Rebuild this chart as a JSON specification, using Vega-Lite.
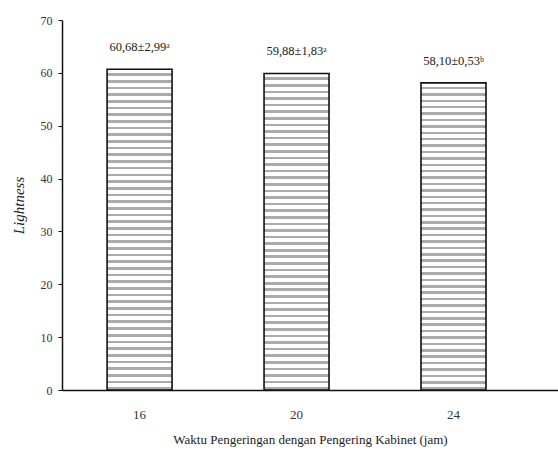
{
  "$schema": "https://vega.github.io/schema/vega-lite/v6.json",
  "width": 496,
  "height": 370,
  "autosize": {"type": "none"},
  "padding": {"left": 62, "top": 20, "right": 0, "bottom": 65},
  "background": "white",
  "config": {
    "view": {"stroke": null},
    "font": "Liberation Serif",
    "axis": {"labelFont": "Liberation Serif", "titleFont": "Liberation Serif", "labelColor": "#333", "titleColor": "#222", "titleFontWeight": "normal", "domainColor": "#111", "tickColor": "#111", "grid": false}
  },
  "data": {
    "values": [
      {"waktu": "16", "lightness": 60.68, "label": "60,68±2,99ᵃ"},
      {"waktu": "20", "lightness": 59.88, "label": "59,88±1,83ᵃ"},
      {"waktu": "24", "lightness": 58.10, "label": "58,10±0,53ᵇ"}
    ]
  },
  "encoding": {
    "x": {
      "field": "waktu",
      "type": "ordinal",
      "sort": null,
      "scale": {"paddingInner": 0.586, "paddingOuter": 0.373, "align": 0.385},
      "axis": {"title": "Waktu Pengeringan dengan Pengering Kabinet (jam)", "labelAngle": 0, "ticks": false, "labelPadding": 18, "labelFontSize": 13, "titleFontSize": 13, "titlePadding": 12, "domainWidth": 1.5}
    },
    "y": {
      "field": "lightness",
      "type": "quantitative",
      "scale": {"domain": [0, 70]},
      "axis": {"title": "Lightness", "titleFontStyle": "italic", "titleFontSize": 15, "titlePadding": 14, "values": [0, 10, 20, 30, 40, 50, 60, 70], "tickSize": 4, "labelPadding": 6, "labelFontSize": 12, "domainWidth": 1.5}
    }
  },
  "layer": [
    {
      "mark": {
        "type": "bar",
        "stroke": "#111",
        "strokeWidth": 1.6,
        "fill": {
          "gradient": "linear", "x1": 0, "y1": 0, "x2": 0, "y2": 1,
          "stops": [
            {"offset": 0, "color": "#fff"},
            {"offset": 0.0125, "color": "#fff"}, {"offset": 0.0125, "color": "#ababab"}, {"offset": 0.0208, "color": "#ababab"}, {"offset": 0.0208, "color": "#fff"},
            {"offset": 0.0333, "color": "#fff"}, {"offset": 0.0333, "color": "#ababab"}, {"offset": 0.0417, "color": "#ababab"}, {"offset": 0.0417, "color": "#fff"},
            {"offset": 0.0542, "color": "#fff"}, {"offset": 0.0542, "color": "#ababab"}, {"offset": 0.0625, "color": "#ababab"}, {"offset": 0.0625, "color": "#fff"},
            {"offset": 0.0750, "color": "#fff"}, {"offset": 0.0750, "color": "#ababab"}, {"offset": 0.0833, "color": "#ababab"}, {"offset": 0.0833, "color": "#fff"},
            {"offset": 0.0958, "color": "#fff"}, {"offset": 0.0958, "color": "#ababab"}, {"offset": 0.1042, "color": "#ababab"}, {"offset": 0.1042, "color": "#fff"},
            {"offset": 0.1167, "color": "#fff"}, {"offset": 0.1167, "color": "#ababab"}, {"offset": 0.1250, "color": "#ababab"}, {"offset": 0.1250, "color": "#fff"},
            {"offset": 0.1375, "color": "#fff"}, {"offset": 0.1375, "color": "#ababab"}, {"offset": 0.1458, "color": "#ababab"}, {"offset": 0.1458, "color": "#fff"},
            {"offset": 0.1583, "color": "#fff"}, {"offset": 0.1583, "color": "#ababab"}, {"offset": 0.1667, "color": "#ababab"}, {"offset": 0.1667, "color": "#fff"},
            {"offset": 0.1792, "color": "#fff"}, {"offset": 0.1792, "color": "#ababab"}, {"offset": 0.1875, "color": "#ababab"}, {"offset": 0.1875, "color": "#fff"},
            {"offset": 0.2000, "color": "#fff"}, {"offset": 0.2000, "color": "#ababab"}, {"offset": 0.2083, "color": "#ababab"}, {"offset": 0.2083, "color": "#fff"},
            {"offset": 0.2208, "color": "#fff"}, {"offset": 0.2208, "color": "#ababab"}, {"offset": 0.2292, "color": "#ababab"}, {"offset": 0.2292, "color": "#fff"},
            {"offset": 0.2417, "color": "#fff"}, {"offset": 0.2417, "color": "#ababab"}, {"offset": 0.2500, "color": "#ababab"}, {"offset": 0.2500, "color": "#fff"},
            {"offset": 0.2625, "color": "#fff"}, {"offset": 0.2625, "color": "#ababab"}, {"offset": 0.2708, "color": "#ababab"}, {"offset": 0.2708, "color": "#fff"},
            {"offset": 0.2833, "color": "#fff"}, {"offset": 0.2833, "color": "#ababab"}, {"offset": 0.2917, "color": "#ababab"}, {"offset": 0.2917, "color": "#fff"},
            {"offset": 0.3042, "color": "#fff"}, {"offset": 0.3042, "color": "#ababab"}, {"offset": 0.3125, "color": "#ababab"}, {"offset": 0.3125, "color": "#fff"},
            {"offset": 0.3250, "color": "#fff"}, {"offset": 0.3250, "color": "#ababab"}, {"offset": 0.3333, "color": "#ababab"}, {"offset": 0.3333, "color": "#fff"},
            {"offset": 0.3458, "color": "#fff"}, {"offset": 0.3458, "color": "#ababab"}, {"offset": 0.3542, "color": "#ababab"}, {"offset": 0.3542, "color": "#fff"},
            {"offset": 0.3667, "color": "#fff"}, {"offset": 0.3667, "color": "#ababab"}, {"offset": 0.3750, "color": "#ababab"}, {"offset": 0.3750, "color": "#fff"},
            {"offset": 0.3875, "color": "#fff"}, {"offset": 0.3875, "color": "#ababab"}, {"offset": 0.3958, "color": "#ababab"}, {"offset": 0.3958, "color": "#fff"},
            {"offset": 0.4083, "color": "#fff"}, {"offset": 0.4083, "color": "#ababab"}, {"offset": 0.4167, "color": "#ababab"}, {"offset": 0.4167, "color": "#fff"},
            {"offset": 0.4292, "color": "#fff"}, {"offset": 0.4292, "color": "#ababab"}, {"offset": 0.4375, "color": "#ababab"}, {"offset": 0.4375, "color": "#fff"},
            {"offset": 0.4500, "color": "#fff"}, {"offset": 0.4500, "color": "#ababab"}, {"offset": 0.4583, "color": "#ababab"}, {"offset": 0.4583, "color": "#fff"},
            {"offset": 0.4708, "color": "#fff"}, {"offset": 0.4708, "color": "#ababab"}, {"offset": 0.4792, "color": "#ababab"}, {"offset": 0.4792, "color": "#fff"},
            {"offset": 0.4917, "color": "#fff"}, {"offset": 0.4917, "color": "#ababab"}, {"offset": 0.5000, "color": "#ababab"}, {"offset": 0.5000, "color": "#fff"},
            {"offset": 0.5125, "color": "#fff"}, {"offset": 0.5125, "color": "#ababab"}, {"offset": 0.5208, "color": "#ababab"}, {"offset": 0.5208, "color": "#fff"},
            {"offset": 0.5333, "color": "#fff"}, {"offset": 0.5333, "color": "#ababab"}, {"offset": 0.5417, "color": "#ababab"}, {"offset": 0.5417, "color": "#fff"},
            {"offset": 0.5542, "color": "#fff"}, {"offset": 0.5542, "color": "#ababab"}, {"offset": 0.5625, "color": "#ababab"}, {"offset": 0.5625, "color": "#fff"},
            {"offset": 0.5750, "color": "#fff"}, {"offset": 0.5750, "color": "#ababab"}, {"offset": 0.5833, "color": "#ababab"}, {"offset": 0.5833, "color": "#fff"},
            {"offset": 0.5958, "color": "#fff"}, {"offset": 0.5958, "color": "#ababab"}, {"offset": 0.6042, "color": "#ababab"}, {"offset": 0.6042, "color": "#fff"},
            {"offset": 0.6167, "color": "#fff"}, {"offset": 0.6167, "color": "#ababab"}, {"offset": 0.6250, "color": "#ababab"}, {"offset": 0.6250, "color": "#fff"},
            {"offset": 0.6375, "color": "#fff"}, {"offset": 0.6375, "color": "#ababab"}, {"offset": 0.6458, "color": "#ababab"}, {"offset": 0.6458, "color": "#fff"},
            {"offset": 0.6583, "color": "#fff"}, {"offset": 0.6583, "color": "#ababab"}, {"offset": 0.6667, "color": "#ababab"}, {"offset": 0.6667, "color": "#fff"},
            {"offset": 0.6792, "color": "#fff"}, {"offset": 0.6792, "color": "#ababab"}, {"offset": 0.6875, "color": "#ababab"}, {"offset": 0.6875, "color": "#fff"},
            {"offset": 0.7000, "color": "#fff"}, {"offset": 0.7000, "color": "#ababab"}, {"offset": 0.7083, "color": "#ababab"}, {"offset": 0.7083, "color": "#fff"},
            {"offset": 0.7208, "color": "#fff"}, {"offset": 0.7208, "color": "#ababab"}, {"offset": 0.7292, "color": "#ababab"}, {"offset": 0.7292, "color": "#fff"},
            {"offset": 0.7417, "color": "#fff"}, {"offset": 0.7417, "color": "#ababab"}, {"offset": 0.7500, "color": "#ababab"}, {"offset": 0.7500, "color": "#fff"},
            {"offset": 0.7625, "color": "#fff"}, {"offset": 0.7625, "color": "#ababab"}, {"offset": 0.7708, "color": "#ababab"}, {"offset": 0.7708, "color": "#fff"},
            {"offset": 0.7833, "color": "#fff"}, {"offset": 0.7833, "color": "#ababab"}, {"offset": 0.7917, "color": "#ababab"}, {"offset": 0.7917, "color": "#fff"},
            {"offset": 0.8042, "color": "#fff"}, {"offset": 0.8042, "color": "#ababab"}, {"offset": 0.8125, "color": "#ababab"}, {"offset": 0.8125, "color": "#fff"},
            {"offset": 0.8250, "color": "#fff"}, {"offset": 0.8250, "color": "#ababab"}, {"offset": 0.8333, "color": "#ababab"}, {"offset": 0.8333, "color": "#fff"},
            {"offset": 0.8458, "color": "#fff"}, {"offset": 0.8458, "color": "#ababab"}, {"offset": 0.8542, "color": "#ababab"}, {"offset": 0.8542, "color": "#fff"},
            {"offset": 0.8667, "color": "#fff"}, {"offset": 0.8667, "color": "#ababab"}, {"offset": 0.8750, "color": "#ababab"}, {"offset": 0.8750, "color": "#fff"},
            {"offset": 0.8875, "color": "#fff"}, {"offset": 0.8875, "color": "#ababab"}, {"offset": 0.8958, "color": "#ababab"}, {"offset": 0.8958, "color": "#fff"},
            {"offset": 0.9083, "color": "#fff"}, {"offset": 0.9083, "color": "#ababab"}, {"offset": 0.9167, "color": "#ababab"}, {"offset": 0.9167, "color": "#fff"},
            {"offset": 0.9292, "color": "#fff"}, {"offset": 0.9292, "color": "#ababab"}, {"offset": 0.9375, "color": "#ababab"}, {"offset": 0.9375, "color": "#fff"},
            {"offset": 0.9500, "color": "#fff"}, {"offset": 0.9500, "color": "#ababab"}, {"offset": 0.9583, "color": "#ababab"}, {"offset": 0.9583, "color": "#fff"},
            {"offset": 0.9708, "color": "#fff"}, {"offset": 0.9708, "color": "#ababab"}, {"offset": 0.9792, "color": "#ababab"}, {"offset": 0.9792, "color": "#fff"},
            {"offset": 0.9917, "color": "#fff"}, {"offset": 0.9917, "color": "#ababab"}, {"offset": 1, "color": "#ababab"}
          ]
        }
      }
    },
    {
      "mark": {"type": "text", "baseline": "bottom", "dy": -15, "fontSize": 12.5, "font": "Liberation Serif", "color": "#222"},
      "encoding": {"text": {"field": "label"}}
    }
  ]
}
